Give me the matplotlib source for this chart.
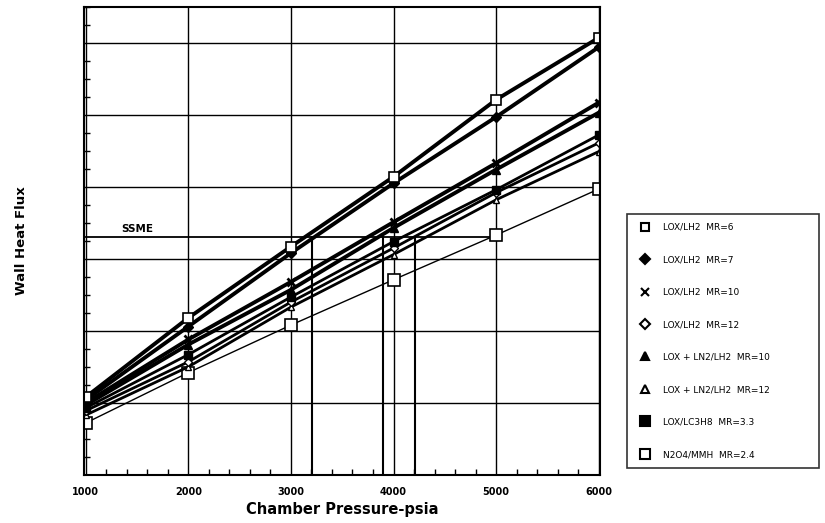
import matplotlib
matplotlib.use("Agg")
import matplotlib.pyplot as plt
from matplotlib.ticker import MultipleLocator
from matplotlib.lines import Line2D

plt.rcParams['font.family'] = ['DejaVu Sans']

pressure = [1000, 2000, 3000, 4000, 5000, 6000]

# wall heat flux, in grid units (no scale on the original)
lox_lh2_mr6 = [1.08, 2.18, 3.17, 4.14, 5.21, 6.07]
lox_lh2_mr7 = [1.04, 2.06, 3.08, 4.05, 4.97, 5.94]
lox_lh2_mr10 = [1.00, 1.88, 2.68, 3.51, 4.33, 5.17]
ln2_mr10 = [0.97, 1.81, 2.57, 3.43, 4.24, 5.03]
lox_lc3h8 = [0.93, 1.67, 2.47, 3.24, 3.96, 4.72]
lox_lh2_mr12 = [0.89, 1.57, 2.40, 3.15, 3.92, 4.61]
ln2_mr12 = [0.83, 1.50, 2.33, 3.06, 3.82, 4.49]
n2o4_mmh = [0.72, 1.42, 2.08, 2.71, 3.33, 3.97]

ssme_level = 3.31
ssme_pressures = [3210, 3900, 4210]
ssme_end = 5000

legend_labels = ["LOX/LH2  MR=6", "LOX/LH2  MR=7", "LOX/LH2  MR=10", "LOX/LH2  MR=12",
                 "LOX + LN2/LH2  MR=10", "LOX + LN2/LH2  MR=12", "LOX/LC3H8  MR=3.3",
                 "N2O4/MMH  MR=2.4"]

fig = plt.figure(figsize=(8.25, 5.23), dpi=100)
ax = fig.add_axes([0.102, 0.092, 0.625, 0.895])

ax.set_xlim(985, 6010)
ax.set_ylim(0, 6.5)

ax.xaxis.set_major_locator(MultipleLocator(1000))
ax.xaxis.set_minor_locator(MultipleLocator(200))
ax.yaxis.set_major_locator(MultipleLocator(1))
ax.yaxis.set_minor_locator(MultipleLocator(0.25))
ax.grid(True, which="major", color="black", lw=1.0)
ax.tick_params(which="both", direction="in", top=False, right=False)
ax.tick_params(which="minor", length=4, width=1)
ax.tick_params(which="major", length=0)
ax.set_yticklabels([])
ax.tick_params(axis="x", labelsize=7, pad=9)
for lb in ax.get_xticklabels():
    lb.set_fontweight("bold")
for s in ax.spines.values():
    s.set_linewidth(1.5)

# SSME reference lines
ax.plot([985, ssme_end], [ssme_level, ssme_level], color="black", lw=1.3)
for p in ssme_pressures:
    ax.plot([p, p], [0, ssme_level], color="black", lw=1.5)
ax.text(1350, ssme_level + 0.06, "SSME", fontsize=7.5, fontweight="bold")

kw = dict(color="black")
ax.plot(pressure, n2o4_mmh, lw=1.0, marker="s", ms=8, mfc="white", mew=1.2, **kw)
ax.plot(pressure, ln2_mr12, lw=2.0, marker="^", ms=5, mfc="white", **kw)
ax.plot(pressure, lox_lh2_mr12, lw=2.0, marker="D", ms=4, mfc="white", **kw)
ax.plot(pressure, lox_lc3h8, lw=2.0, marker="s", ms=6, **kw)
ax.plot(pressure, ln2_mr10, lw=2.8, marker="^", ms=6, **kw)
ax.plot(pressure, lox_lh2_mr10, lw=2.8, marker="x", ms=6, mew=2, **kw)
ax.plot(pressure, lox_lh2_mr7, lw=2.8, marker="D", ms=5, **kw)
ax.plot(pressure, lox_lh2_mr6, lw=2.8, marker="s", ms=7, mfc="white", mew=1.2, **kw)

ax.set_xlabel("Chamber Pressure-psia", fontsize=10.5, fontweight="bold", labelpad=3)
ax.set_ylabel("Wall Heat Flux", fontsize=9.5, fontweight="bold", labelpad=37)

styles = [("s", "white", 6), ("D", "black", 5), ("x", "black", 6), ("D", "white", 5),
          ("^", "black", 6), ("^", "white", 6), ("s", "black", 7), ("s", "white", 7)]
handles = [Line2D([], [], ls="none", marker=m, mfc=fc, mec="black", color="black",
                  ms=ms, mew=1.5) for m, fc, ms in styles]
leg = fig.legend(handles, legend_labels, loc="upper left",
                 bbox_to_anchor=(0.755, 0.6, 0.243, 0.0), mode="expand",
                 fontsize=6.5, labelspacing=2.6, handletextpad=0.9,
                 borderpad=1.0, fancybox=False, edgecolor="black", frameon=True)
leg.get_frame().set_linewidth(1.2)

fig.savefig("out.png", dpi=100)
